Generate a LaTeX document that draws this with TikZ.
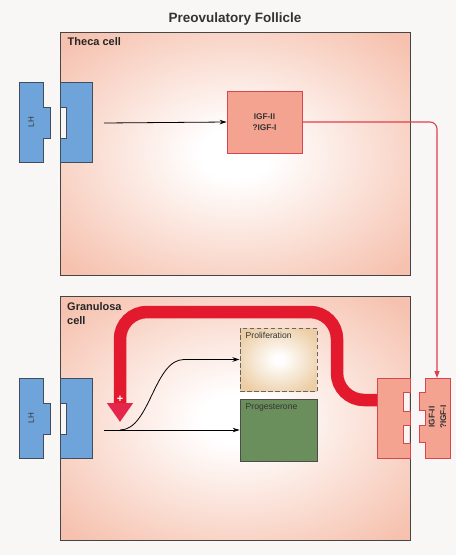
\documentclass[tikz,border=0pt]{standalone}
\usepackage{fontspec}
\setmainfont{Liberation Sans}
\usetikzlibrary{arrows.meta}
\definecolor{bg}{HTML}{F8F7F5}
\definecolor{cellpink}{HTML}{F6C2AF}
\definecolor{tan}{HTML}{ECCDA4}
\definecolor{recblue}{HTML}{6FA4DA}
\definecolor{recborder}{HTML}{3F4D5C}
\definecolor{igffill}{HTML}{F4A391}
\definecolor{igfborder}{HTML}{D64550}
\definecolor{thinred}{HTML}{E0404E}
\definecolor{thickred}{HTML}{E3192D}
\definecolor{headred}{HTML}{E4264A}
\definecolor{progreen}{HTML}{6B8F5C}
\definecolor{cellborder}{HTML}{454545}
\pgfdeclareradialshading{cellshade}{\pgfpoint{0bp}{0bp}}{color(0bp)=(white);color(5bp)=(white);color(33bp)=(cellpink);color(50bp)=(cellpink)}
\pgfdeclareradialshading{prolshade}{\pgfpoint{0bp}{0bp}}{color(0bp)=(white);color(3bp)=(white);color(30bp)=(tan);color(50bp)=(tan)}
\begin{document}
\begin{tikzpicture}[x=1pt,y=-1pt,
  cellbox/.style={draw=cellborder,line width=1.1pt,shading=cellshade,anchor=north west,minimum width=350pt,minimum height=243pt,inner sep=0pt},
  celllabel/.style={font=\bfseries\fontsize{11}{14}\selectfont,text=black!85,inner sep=0pt,align=left},
  receptor/.style={fill=recblue,draw=recborder,line width=0.7pt},
  igfpiece/.style={fill=igffill,draw=igfborder,line width=0.7pt},
  igftext/.style={font=\bfseries\fontsize{8.3}{11.5}\selectfont,text=black!80,align=center,inner sep=0pt},
  smalltext/.style={font=\fontsize{8.6}{10}\selectfont,text=black!80,inner sep=0pt},
  lhtext/.style={font=\fontsize{8}{9}\selectfont,text=black!80,inner sep=0pt,rotate=90},
  blackarrow/.style={line width=0.8pt,-{Stealth[length=7pt,width=4.5pt]}},
  redline/.style={draw=thinred,line width=1.1pt,rounded corners=7pt,-{Triangle[length=7pt,width=5pt]}},
  thickline/.style={draw=thickred,line width=12.5pt,rounded corners=27pt,-{Triangle[length=19pt,width=25pt,color=headred]}}
]
\fill[bg] (0,0) rectangle (456,555);
\useasboundingbox (0,0) rectangle (456,555);

\node[font=\bfseries\fontsize{13.5}{16}\selectfont,text=black!80] (title) at (235,19) {Preovulatory Follicle};

% Theca cell
\node[cellbox] (theca) at (60,32) {};
\node[celllabel,anchor=north west] (thecalabel) at (67.5,37.5) {Theca cell};
\fill[bg] (60.6,107) rectangle (66.7,138);
\draw[receptor] (19,82) -- (43,82) -- (43,107) -- (50,107) -- (50,138) -- (43,138) -- (43,162) -- (19,162) -- cycle;
\draw[receptor] (60,82) -- (92,82) -- (92,162) -- (60,162) -- (60,138) -- (66.7,138) -- (66.7,107) -- (60,107) -- cycle;
\node[lhtext] (lh1) at (31,122) {LH};
\coordinate (rec1out) at (104,123);
\node[igfpiece,minimum width=75pt,minimum height=62pt,inner sep=0pt] (igf1) at (264.5,122) {};
\node[igftext] (igf1text) at (igf1.center) {IGF-II\\?IGF-I};
\draw[blackarrow] (rec1out) -- (igf1.west);

% Granulosa cell
\node[cellbox,minimum height=244pt] (gran) at (60,296) {};
\node[celllabel,anchor=north west] (granlabel) at (67,302.5) {Granulosa\\cell};
\fill[bg] (60.6,403) rectangle (66.7,434);
\draw[receptor] (19,378) -- (43,378) -- (43,403) -- (50,403) -- (50,434) -- (43,434) -- (43,458) -- (19,458) -- cycle;
\draw[receptor] (60,378) -- (92,378) -- (92,458) -- (60,458) -- (60,434) -- (66.7,434) -- (66.7,403) -- (60,403) -- cycle;
\node[lhtext] (lh2) at (31,418) {LH};

\node[draw=black!60,dashed,dash pattern=on 4.5pt off 2.5pt,line width=1pt,shading=prolshade,minimum width=77pt,minimum height=63pt,inner sep=0pt] (prolif) at (278.5,359.5) {};
\node[smalltext,anchor=north west] (prolabel) at (245.5,332) {Proliferation};
\node[draw=black!70,line width=0.8pt,fill=progreen,minimum width=77pt,minimum height=62pt,inner sep=0pt] (proges) at (278.5,430) {};
\node[smalltext,anchor=north west] (proglabel) at (245.5,403) {Progesterone};

\coordinate (rec2out) at (104,430);
\coordinate (branch) at (120,430);
\draw[blackarrow] (rec2out) -- (proges.west);
\draw[blackarrow] (branch) .. controls (150,430) and (154,359.5) .. (184,359.5) -- (prolif.west);

% IGF receptor and ligand
\fill[bg] (403,392) rectangle (409.4,411);
\fill[bg] (403,425) rectangle (409.4,443);
\draw[igfpiece] (377,378) -- (410,378) -- (410,392) -- (403,392) -- (403,411) -- (410,411) -- (410,425) -- (403,425) -- (403,443) -- (410,443) -- (410,458) -- (377,458) -- cycle;
\coordinate (igfrec) at (377,400);
\draw[igfpiece] (425,378) -- (450,378) -- (450,458) -- (425,458) -- (425,442) -- (419,442) -- (419,425) -- (425,425) -- (425,410) -- (419,410) -- (419,392) -- (425,392) -- cycle;
\coordinate (lig) at (437,378);
\node[igftext,rotate=90] (ligtext) at (437.5,417) {IGF-II\\?IGF-I};

\draw[redline] (igf1.east) -| (lig);

\coordinate (plus) at (120,422);
\draw[thickline] (igfrec) -- (337,400) -- (337,312) -- (120,312) -- (plus);
\node[font=\bfseries\fontsize{11}{11}\selectfont,text=white,inner sep=0pt] (plussign) at (120,399) {+};
\end{tikzpicture}
\end{document}
